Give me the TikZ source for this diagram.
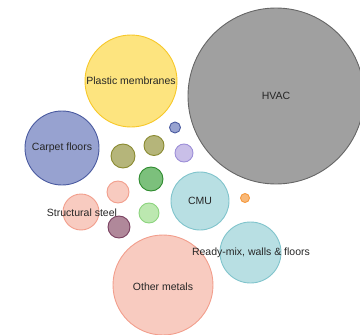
\documentclass[tikz,border=0pt]{standalone}
\usepackage{fontspec}
\setmainfont{Liberation Sans}
\begin{document}
\begin{tikzpicture}[x=1pt,y=-1pt,
  bub/.style={circle,inner sep=0pt,line width=0.9pt},
  lbl/.style={font=\fontsize{10.5}{12}\selectfont,text=black!85,inner sep=0pt},
  gray/.style={bub,fill=hvgray,draw=hvline},
  yel/.style={bub,fill=yelfill,draw=yelline},
  blu/.style={bub,fill=blufill,draw=bluline},
  pnk/.style={bub,fill=pnkfill,draw=pnkline},
  olv/.style={bub,fill=olvfill,draw=olvline},
  lav/.style={bub,fill=lavfill,draw=lavline},
  grn/.style={bub,fill=grnfill,draw=grnline},
  lgr/.style={bub,fill=lgrfill,draw=lgrline},
  mau/.style={bub,fill=maufill,draw=mauline},
  cyn/.style={bub,fill=cynfill,draw=cynline},
  org/.style={bub,fill=orgfill,draw=orgline}]
\definecolor{hvgray}{HTML}{A0A0A0}\definecolor{hvline}{HTML}{666666}
\definecolor{yelfill}{HTML}{FDE47F}\definecolor{yelline}{HTML}{F7C829}
\definecolor{blufill}{HTML}{97A2D0}\definecolor{bluline}{HTML}{4A5AA0}
\definecolor{pnkfill}{HTML}{F8CBC0}\definecolor{pnkline}{HTML}{F29E8C}
\definecolor{olvfill}{HTML}{B5B57A}\definecolor{olvline}{HTML}{8A8A30}
\definecolor{lavfill}{HTML}{C9BFE8}\definecolor{lavline}{HTML}{9D8FD8}
\definecolor{grnfill}{HTML}{7CC07C}\definecolor{grnline}{HTML}{2E8B2E}
\definecolor{lgrfill}{HTML}{BCE8B0}\definecolor{lgrline}{HTML}{8CD47E}
\definecolor{maufill}{HTML}{B0889A}\definecolor{mauline}{HTML}{7A4060}
\definecolor{cynfill}{HTML}{B8DFE3}\definecolor{cynline}{HTML}{80C4CC}
\definecolor{orgfill}{HTML}{F8B878}\definecolor{orgline}{HTML}{F59A40}
\useasboundingbox (0,0) rectangle (360,335);
\node[gray,minimum size=176pt] (hvac) at (276,96) {};
\node[yel,minimum size=92pt] (plast) at (131,81) {};
\node[blu,minimum size=74pt] (carpet) at (62,148) {};
\node[pnk,minimum size=36pt] (steel) at (81,212) {};
\node[pnk,minimum size=22pt] (pk2) at (118,192) {};
\node[olv,minimum size=24pt] (ol1) at (123,156) {};
\node[olv,minimum size=20pt] (ol2) at (154,145.5) {};
\node[blu,minimum size=11pt] (sb) at (175,127.5) {};
\node[lav,minimum size=18pt] (lav) at (184,153) {};
\node[grn,minimum size=24pt] (gr) at (151,179) {};
\node[lgr,minimum size=20pt] (lg) at (149,213) {};
\node[mau,minimum size=22pt] (mau) at (119,227) {};
\node[cyn,minimum size=58pt] (cmu) at (200,201) {};
\node[org,minimum size=9pt] (org) at (245,198) {};
\node[pnk,minimum size=100pt] (metals) at (163,285) {};
\node[cyn,minimum size=61pt] (ready) at (250.5,252.5) {};
\node[lbl] (thvac) at (hvac) {HVAC};
\node[lbl] (tplast) at (plast) {Plastic membranes};
\node[lbl] (tcarpet) at (carpet) {Carpet floors};
\node[lbl] (tsteel) at (82,213) {Structural steel};
\node[lbl] (tcmu) at (cmu) {CMU};
\node[lbl] (tready) at (251,253) {Ready-mix, walls \& floors};
\node[lbl] (tmetals) at (163,287) {Other metals};
\end{tikzpicture}
\end{document}
